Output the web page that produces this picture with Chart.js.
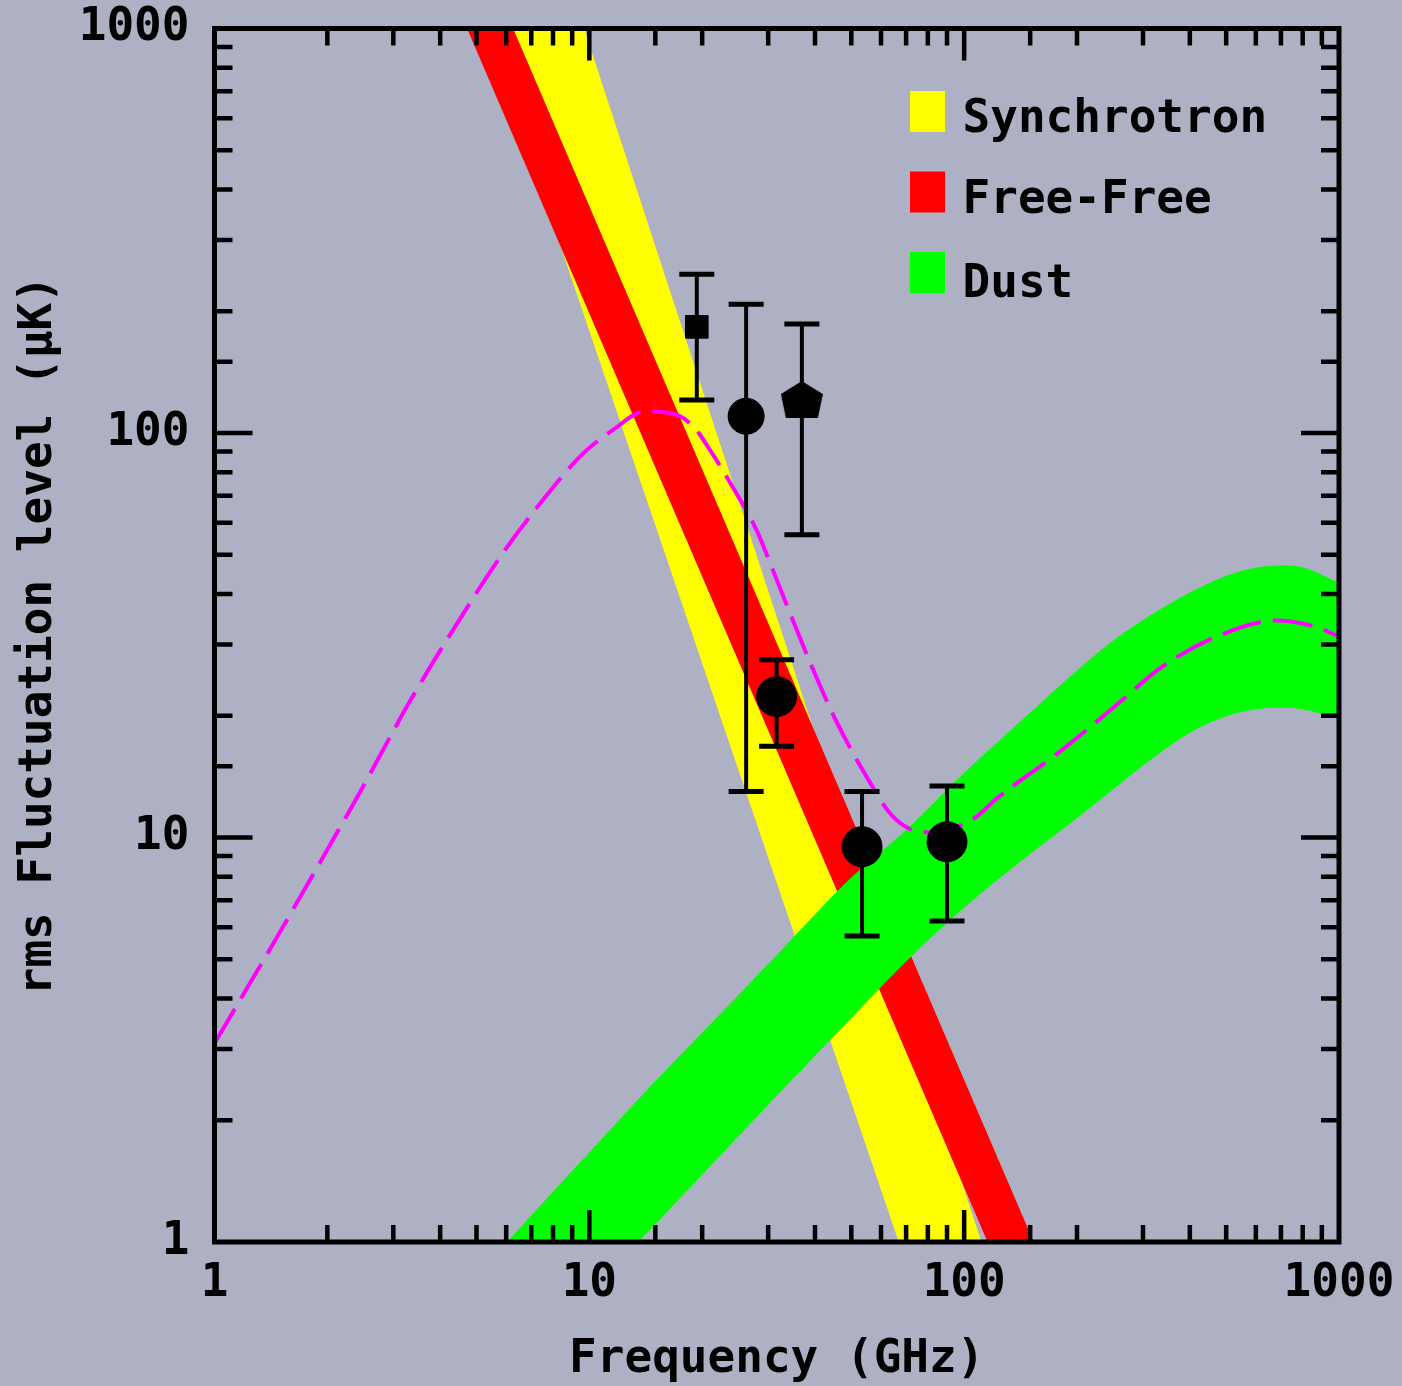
<!DOCTYPE html>
<html>
<head>
<meta charset="utf-8">
<title>Foreground fluctuation levels</title>
<script src="https://cdn.jsdelivr.net/npm/chart.js@4.4.1/dist/chart.umd.min.js"></script>
<style>
  html, body { margin: 0; padding: 0; background: #adb1c3; overflow: hidden; }
  canvas { display: block; }
</style>
</head>
<body>
<canvas id="chart" width="1402" height="1386"></canvas>
<script>
// axis ranges and tick labels
const FREQ_RANGE = [1, 1000];
const LEVEL_RANGE = [1, 1000];
const DECADE_LABELS = ["1", "10", "100", "1000"];

// legend
const legendLabels = ["Synchrotron", "Free-Free", "Dust"];

// synchrotron band (power law, two edges on a shared grid)
const syncFreq = [3, 300];
const syncHigh = [27310, 0.0597];
const syncLow = [4820, 0.0168];

// free-free band
const ffFreq = [3, 300];
const ffHigh = [4867, 0.233];
const ffLow = [2679, 0.128];

// dust band
const dustFreq = [5, 7, 10, 15, 20, 30, 50, 70, 100, 150, 200, 250, 300, 400, 500, 600, 700, 800, 1000];
const dustHigh = [0.82, 1.16, 1.66, 2.49, 3.28, 4.85, 7.94, 10.4, 14.4, 20.3, 25.8, 30.6, 34.4, 40.2, 44.2, 46.3, 46.9, 46.4, 42.5];
const dustLow = [0.38, 0.53, 0.75, 1.11, 1.47, 2.19, 3.59, 4.95, 6.73, 9.13, 11.2, 13.2, 15.1, 18.2, 20.0, 20.8, 21.0, 20.8, 19.7];

// magenta dashed curve
const curveFreq = [1, 1.37, 1.84, 2.45, 3.33, 4.24, 5.89, 7.5, 9.54, 11.6, 14.0, 16.5, 18.9, 20.9, 24.3, 28.0, 30.8, 39.0, 45.7, 55.0, 63.3, 71.6, 80.9, 107, 121, 180, 254, 337, 472, 683, 873, 1000];
const curveLevel = [3.1, 5.08, 8.15, 13.0, 21.8, 31.6, 50.6, 68.1, 88.3, 102, 113, 112, 104, 91.3, 72.7, 57.3, 46.1, 26.8, 19.3, 14.1, 11.5, 10.5, 10.3, 11.2, 12.4, 16.3, 21.2, 26.4, 31.4, 34.4, 33.1, 31.4];

// measurements with error bars
const pointFreq = [19.35, 26.2, 36.9, 31.6, 53.4, 90.0];
const pointLevel = [183, 110, 121, 22.3, 9.49, 9.76];
const errLow = [120.7, 13.0, 56.0, 16.8, 5.71, 6.22];
const errHigh = [247, 208, 186, 27.5, 13.0, 13.4];

// styles
const BG = "#adb1c3";
const BAND_COLORS = ["#ffff00", "#ff0000", "#00ff00"];
const CURVE_COLOR = "#ff00ff";
const FONT = { family: '"DejaVu Sans Mono", monospace', size: 46, weight: "bold", lineHeight: 1 };
const FONT_CSS = 'bold 46px "DejaVu Sans Mono", monospace';

function isDecade(v) {
  const l = Math.log10(v);
  return Math.abs(l - Math.round(l)) < 1e-9;
}

function pairs(xs, ys) {
  return xs.map((x, i) => ({ x, y: ys[i] }));
}

function houseMarker() {
  const c = document.createElement("canvas");
  c.width = 42;
  c.height = 37;
  const g = c.getContext("2d");
  g.fillStyle = "#000";
  g.beginPath();
  g.moveTo(21, 0);
  g.lineTo(42, 13);
  g.lineTo(37, 37);
  g.lineTo(5, 37);
  g.lineTo(0, 13);
  g.closePath();
  g.fill();
  return c;
}

const errData = [];
pointFreq.forEach((f, i) => {
  errData.push({ x: f, y: errLow[i] }, { x: f, y: errHigh[i] }, { x: f, y: null });
});

function bandEdge(data, color, order, fill) {
  return {
    data,
    order,
    fill,
    backgroundColor: color,
    borderColor: color,
    borderWidth: 1,
    pointRadius: 0,
    cubicInterpolationMode: "monotone",
  };
}

const background = {
  id: "background",
  beforeDraw(chart) {
    const { ctx, width, height } = chart;
    ctx.save();
    ctx.fillStyle = BG;
    ctx.fillRect(0, 0, width, height);
    ctx.restore();
  },
};

// inward ticks on all four sides plus the frame
const frameTicks = {
  id: "frameTicks",
  afterDatasetsDraw(chart) {
    const { ctx, chartArea: a, scales: { x, y } } = chart;
    ctx.save();
    ctx.strokeStyle = "#000";
    ctx.lineWidth = 4.5;
    ctx.beginPath();
    for (const t of x.ticks) {
      if (t.value <= FREQ_RANGE[0] || t.value >= FREQ_RANGE[1]) continue;
      const px = x.getPixelForValue(t.value);
      const len = isDecade(t.value) ? 32 : 17;
      ctx.moveTo(px, a.bottom);
      ctx.lineTo(px, a.bottom - len);
      ctx.moveTo(px, a.top);
      ctx.lineTo(px, a.top + len);
    }
    for (const t of y.ticks) {
      if (t.value <= LEVEL_RANGE[0] || t.value >= LEVEL_RANGE[1]) continue;
      const py = y.getPixelForValue(t.value);
      const len = isDecade(t.value) ? 38 : 18;
      ctx.moveTo(a.left, py);
      ctx.lineTo(a.left + len, py);
      ctx.moveTo(a.right, py);
      ctx.lineTo(a.right - len, py);
    }
    ctx.stroke();
    ctx.lineWidth = 5;
    ctx.strokeRect(a.left, a.top, a.right - a.left, a.bottom - a.top);
    ctx.restore();
  },
};

const legendBox = {
  id: "legendBox",
  afterDatasetsDraw(chart) {
    const { ctx, chartArea: a } = chart;
    ctx.save();
    ctx.font = FONT_CSS;
    ctx.textBaseline = "alphabetic";
    ctx.textAlign = "left";
    legendLabels.forEach((label, i) => {
      const top = a.top + 62.5 + i * 80.5;
      ctx.fillStyle = BAND_COLORS[i];
      ctx.fillRect(a.left + 695.5, top, 35, 41);
      ctx.fillStyle = "#000";
      ctx.fillText(label, a.left + 748, top + 41 + (i === 2 ? 4 : 0));
    });
    ctx.restore();
  },
};

new Chart(document.getElementById("chart"), {
  type: "line",
  data: {
    datasets: [
      {
        label: "points",
        data: pairs(pointFreq, pointLevel),
        order: 0,
        showLine: false,
        pointStyle: ["rect", "circle", houseMarker(), "circle", "circle", "circle"],
        pointRadius: [16, 18, 20, 20, 20, 20],
        pointBackgroundColor: "#000",
        pointBorderColor: "#000",
        pointBorderWidth: 1,
      },
      {
        label: "errors",
        data: errData,
        order: 1,
        showLine: true,
        spanGaps: false,
        borderColor: "#000",
        borderWidth: 4,
        pointStyle: "line",
        pointRadius: 17.5,
        pointBorderColor: "#000",
        pointBorderWidth: 5,
      },
      {
        label: "total",
        data: pairs(curveFreq, curveLevel),
        order: 2,
        borderColor: CURVE_COLOR,
        borderWidth: 4,
        borderDash: [40, 12],
        cubicInterpolationMode: "monotone",
        pointRadius: 0,
        fill: false,
      },
      bandEdge(pairs(dustFreq, dustHigh), BAND_COLORS[2], 3, "+1"),
      bandEdge(pairs(dustFreq, dustLow), BAND_COLORS[2], 3, false),
      bandEdge(pairs(ffFreq, ffHigh), BAND_COLORS[1], 4, "+1"),
      bandEdge(pairs(ffFreq, ffLow), BAND_COLORS[1], 4, false),
      bandEdge(pairs(syncFreq, syncHigh), BAND_COLORS[0], 5, "+1"),
      bandEdge(pairs(syncFreq, syncLow), BAND_COLORS[0], 5, false),
    ],
  },
  options: {
    responsive: false,
    devicePixelRatio: 1,
    animation: false,
    events: [],
    layout: { padding: { left: 0, top: 28.5, right: 63, bottom: 0 } },
    plugins: {
      legend: { display: false },
      tooltip: { enabled: false },
    },
    scales: {
      x: {
        type: "logarithmic",
        position: "bottom",
        min: FREQ_RANGE[0],
        max: FREQ_RANGE[1],
        grid: { display: false, drawTicks: false },
        border: { display: false },
        ticks: {
          autoSkip: false,
          maxRotation: 0,
          padding: 19.5,
          color: "#000",
          font: FONT,
          callback: (v) => (isDecade(v) ? DECADE_LABELS[Math.round(Math.log10(v))] : ""),
        },
        title: {
          display: true,
          text: "Frequency (GHz)",
          color: "#000",
          font: FONT,
          padding: { top: 0, bottom: 3 },
        },
        afterFit(s) {
          s.height = 144;
          s.paddingLeft = 0;
          s.paddingRight = 0;
        },
      },
      y: {
        type: "logarithmic",
        position: "left",
        min: LEVEL_RANGE[0],
        max: LEVEL_RANGE[1],
        grid: { display: false, drawTicks: false },
        border: { display: false },
        ticks: {
          autoSkip: false,
          padding: 25,
          color: "#000",
          font: FONT,
          callback: (v) => (isDecade(v) ? DECADE_LABELS[Math.round(Math.log10(v))] : ""),
        },
        title: {
          display: true,
          text: "rms Fluctuation level (μK)",
          color: "#000",
          font: FONT,
          padding: { top: 16.5, bottom: 0 },
        },
        afterFit(s) {
          s.width = 214.5;
          s.paddingTop = 0;
          s.paddingBottom = 0;
        },
      },
    },
  },
  plugins: [background, frameTicks, legendBox],
});
</script>
</body>
</html>
